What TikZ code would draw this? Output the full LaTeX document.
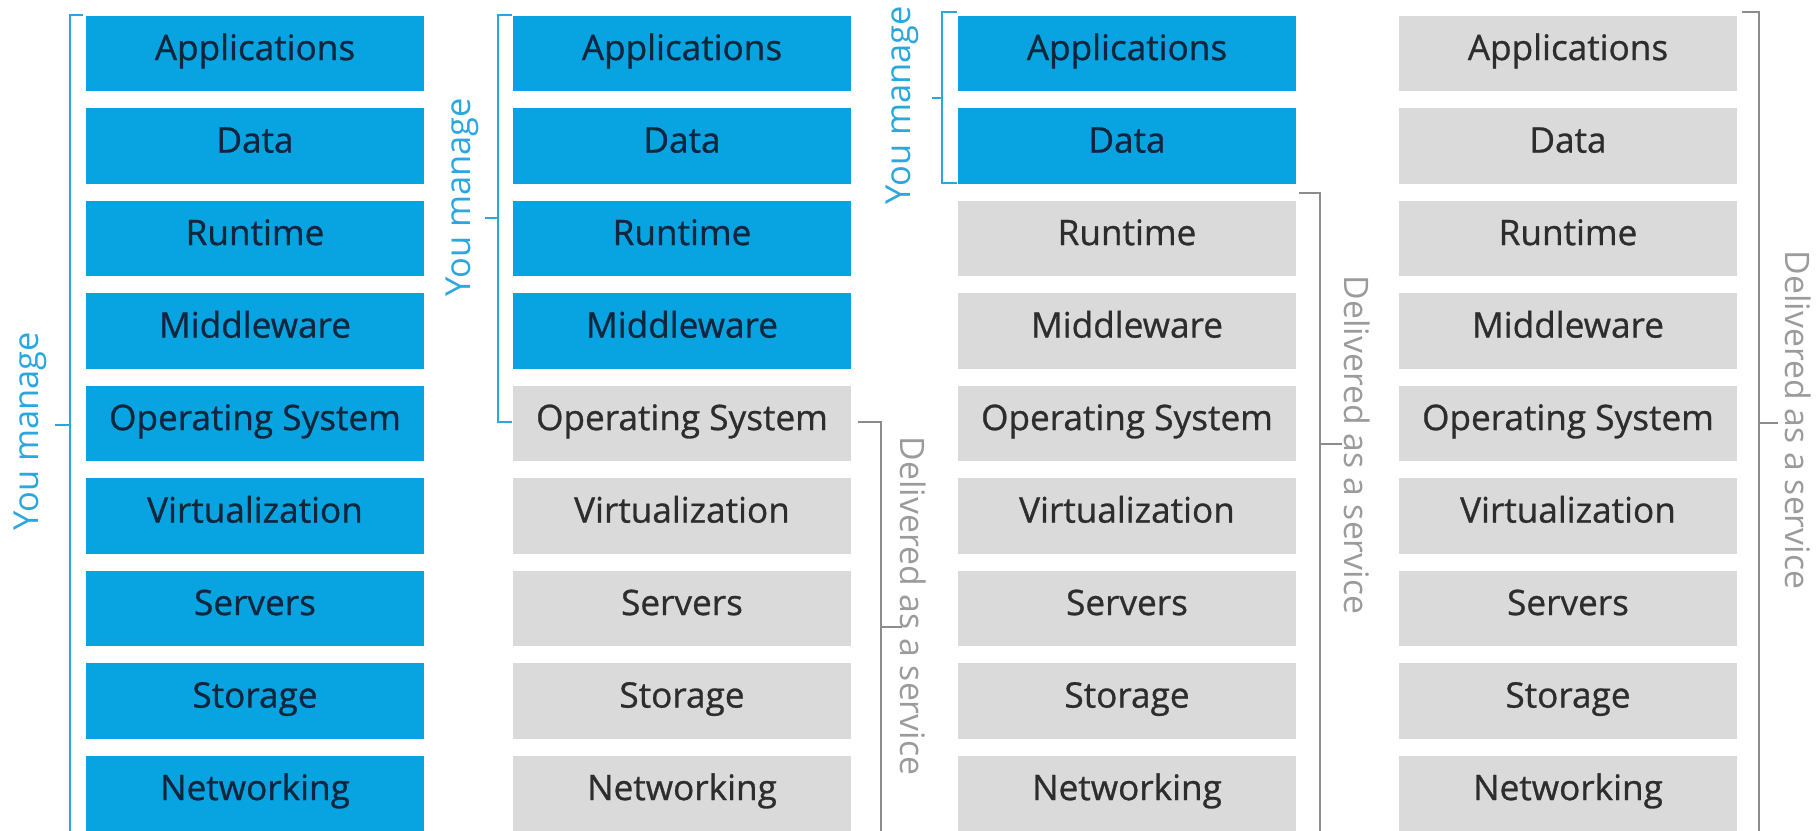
\documentclass[tikz,border=0pt]{standalone}
\usepackage{fontspec}
\setmainfont{Open Sans}
\newfontfamily\boxfont{Open Sans}[FakeBold=0.8]
\usepackage{tikz}
\usetikzlibrary{positioning}
\definecolor{ownblue}{RGB}{8,164,226}
\definecolor{svcgray}{RGB}{218,218,218}
\definecolor{owntext}{RGB}{16,38,61}
\definecolor{svctext}{RGB}{45,45,45}
\definecolor{ownline}{RGB}{42,167,223}
\definecolor{svcline}{RGB}{140,140,140}
\definecolor{svclabel}{RGB}{155,155,155}
\tikzset{
	layer/.style={inner sep=0pt, minimum width=3.37cm, minimum height=0.75cm,
		text height=1.7ex, text depth=1ex,
		font=\boxfont\fontsize{10}{12}\selectfont},
	ownbox/.style={layer, fill=ownblue, text=owntext},
	svcbox/.style={layer, fill=svcgray, text=svctext},
	ownbracket/.style={draw=ownline, line width=0.8pt},
	svcbracket/.style={draw=svcline, line width=0.8pt},
	ownlabel/.style={text=ownline, rotate=90, font=\fontsize{9.8}{12}\selectfont},
	svclabel/.style={text=svclabel, rotate=-90, font=\fontsize{9.6}{12}\selectfont},
}

\begin{document}
\begin{tikzpicture}[x=0.01cm, y=-0.01cm]
        \useasboundingbox (0,0) rectangle (1820,831);
        % four stacks, \n = number of layers you manage
        \foreach \lbl [count=\r] in {Applications,Data,Runtime,Middleware,Operating System,Virtualization,Servers,Storage,Networking} {
            \foreach \c/\x/\n in {1/255/9,2/682/4,3/1127/2,4/1568/0} {
                \ifnum\r>\n \def\sty{svcbox}\else\def\sty{ownbox}\fi
                \node[\sty] (c\c r\r) at (\x,{53.5+92.5*(\r-1)}) {\lbl};
            }
        }
        % on premises
        \draw[ownbracket] (83,15) -- (70,15) -- (70,831);
        \draw[ownbracket] (55,425) -- (70,425);
        \node[ownlabel] (own1) at (30,431) {You manage};
        % infrastructure
        \draw[ownbracket] (512,15) -- (498,15) -- (498,422) -- (512,422);
        \draw[ownbracket] (485,218) -- (498,218);
        \node[ownlabel] (own2) at (462,197) {You manage};
        \draw[svcbracket] (858,422) -- (881,422) -- (881,831);
        \draw[svcbracket] (881,627) -- (902,627);
        \node[svclabel] (svc2) at (913,606) {Delivered as a service};
        % platform
        \draw[ownbracket] (957,12) -- (942,12) -- (942,183) -- (957,183);
        \draw[ownbracket] (932,98) -- (942,98);
        \node[ownlabel] (own3) at (902,105) {You manage};
        \draw[svcbracket] (1299,193) -- (1320,193) -- (1320,831);
        \draw[svcbracket] (1320,444) -- (1342,444);
        \node[svclabel] (svc3) at (1357,445) {Delivered as a service};
        % software
        \draw[svcbracket] (1742,12) -- (1759,12) -- (1759,831);
        \draw[svcbracket] (1759,423) -- (1778,423);
        \node[svclabel] (svc4) at (1798,420) {Delivered as a service};
    \end{tikzpicture}
\end{document}
